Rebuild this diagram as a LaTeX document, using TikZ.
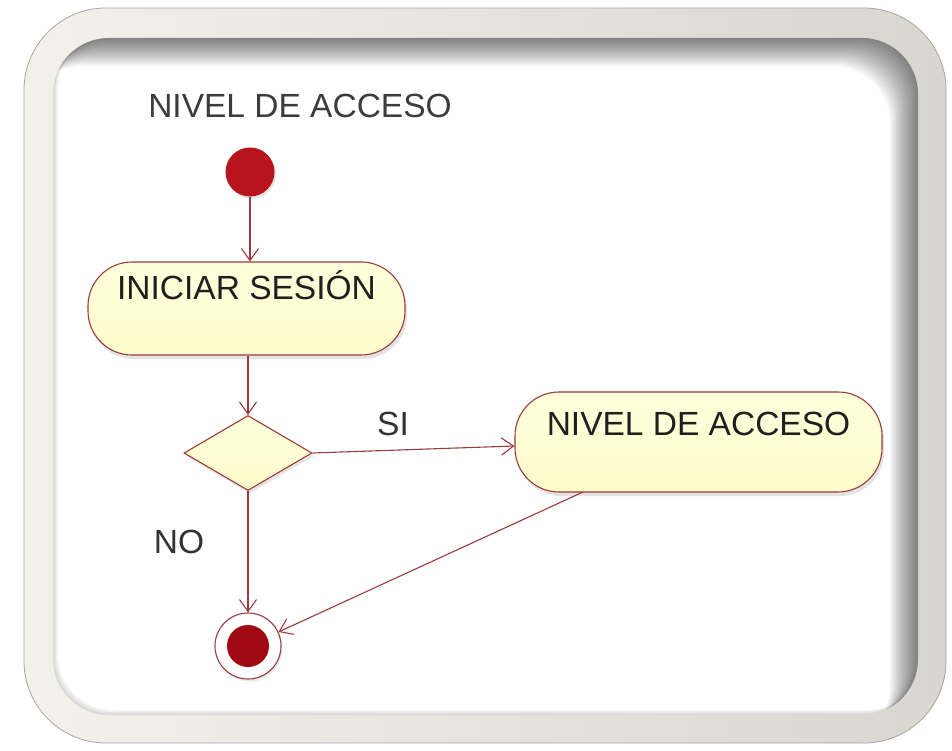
\documentclass[tikz,border=0pt]{standalone}
\usepackage{fontspec}
\setmainfont{Liberation Sans}
\usetikzlibrary{arrows.meta,shapes.geometric,shadows,calc}
\definecolor{framecolL}{HTML}{F3F1EA}
\definecolor{framecolR}{HTML}{D8D6CE}
\definecolor{edgecol}{HTML}{9B3B3B}
\definecolor{fillY}{HTML}{FFFCCB}
\definecolor{fillYt}{HTML}{FFFFDC}
\definecolor{startred}{HTML}{B8141E}
\definecolor{endred}{HTML}{A00A12}
\definecolor{titlegray}{HTML}{3C3C3C}
\tikzset{
  actbox/.style={draw=edgecol, line width=1.1pt, top color=fillYt, bottom color=fillY,
    rounded corners=44pt, inner sep=0pt, anchor=base, font=\fontsize{33.5}{40}\selectfont, text=black!88,
    drop shadow={shadow xshift=2pt, shadow yshift=-4pt, opacity=0.22}},
  flow/.style={draw=edgecol, line width=1.1pt, -{Straight Barb[length=12pt,width=17pt,line width=1.1pt]}},
  lbl/.style={font=\fontsize{33.5}{40}\selectfont, text=black!80, inner sep=0pt, anchor=base}
}
\begin{document}
\begin{tikzpicture}[x=1pt,y=-1pt]
\useasboundingbox (0,0) rectangle (952,751);
% frame
\fill[white] (0,0) rectangle (952,751);
\shade[left color=framecolL, right color=framecolR, rounded corners=82pt, draw=black!35, line width=0.8pt]
  (24,8) rectangle (946,743);
\fill[white, rounded corners=56pt] (53,38) rectangle (918,715);
\begin{scope}
  \clip[rounded corners=56pt] (53,38) rectangle (918,715);
  \foreach \d in {2,4,...,28} {
    \fill[black, opacity=0.045, even odd rule]
      (0,0) rectangle (952,751)
      [rounded corners=56pt] (53-\d,38+\d) rectangle (918-\d,715+\d);
  }
  \foreach \d in {1,2,...,5} {
    \fill[black, opacity=0.03, even odd rule]
      (0,0) rectangle (952,751)
      [rounded corners=56pt] (53+\d,38-\d) rectangle (918+\d,715-\d);
  }
\end{scope}
% title
\node[lbl, text=titlegray] (title) at (300,118) {NIVEL DE ACCESO};
% start
\node[circle, fill=startred, minimum size=49pt, inner sep=0pt,
  drop shadow={shadow xshift=1.5pt, shadow yshift=-2.5pt, opacity=0.2}] (start) at (250,172) {};
% activity 1
\node[actbox, minimum width=317pt, text height=37pt, text depth=56pt] (act1) at (246.5,299) {INICIAR SESIÓN};
% decision
\node[diamond, draw=edgecol, line width=1.1pt, top color=fillYt, bottom color=fillY,
  minimum width=128pt, minimum height=75pt, inner sep=0pt, aspect=1.7,
  drop shadow={shadow xshift=2pt, shadow yshift=-3pt, opacity=0.2}] (dec) at (248,453) {};
% activity 2
\node[actbox, minimum width=367pt, text height=43pt, text depth=57pt] (act2) at (698.5,435) {NIVEL DE ACCESO};
% final
\node[circle, draw=edgecol, line width=1.1pt, fill=white, minimum size=66pt, inner sep=0pt,
  drop shadow={shadow xshift=1.5pt, shadow yshift=-2.5pt, opacity=0.18}] (fin) at (248,646) {};
\node[circle, fill=endred, minimum size=42pt, inner sep=0pt] (fincore) at (fin.center) {};
% labels
\node[lbl] (si) at (393,435) {SI};
\node[lbl] (no) at (179,553) {NO};
% connectors
\draw[flow] (start.south) -- (start.south |- act1.north);
\draw[flow] (dec.north |- act1.south) -- (dec.north);
\coordinate (a2in) at (act2.west |- 0,446);
\draw[flow] (dec.east) -- (a2in);
\draw[flow] (dec.south) -- (fin.north);
\coordinate (a2out) at (583,492);
\draw[flow] (a2out) -- (fin);
\end{tikzpicture}
\end{document}
